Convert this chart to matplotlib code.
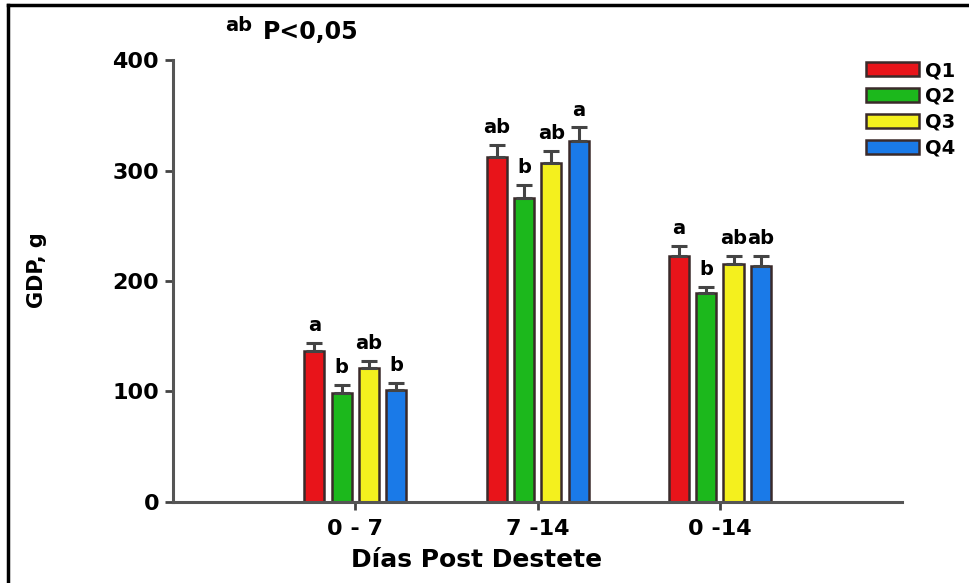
import matplotlib.pyplot as plt
import numpy as np

plt.rcParams['font.family'] = ['DejaVu Sans']
plt.rcParams['font.weight'] = 'bold'

# weight gain per period and quartile
periods = ['0 - 7', '7 -14', '0 -14']
groups = ['Q1', 'Q2', 'Q3', 'Q4']
gdp = {
    'Q1': [137, 312, 223],
    'Q2': [99, 275, 189],
    'Q3': [121, 307, 215],
    'Q4': [101, 327, 214],
}
err = {
    'Q1': [7, 11, 9],
    'Q2': [7, 12, 6],
    'Q3': [7, 11, 8],
    'Q4': [7, 12, 9],
}
letters = {
    'Q1': ['a', 'ab', 'a'],
    'Q2': ['b', 'b', 'b'],
    'Q3': ['ab', 'ab', 'ab'],
    'Q4': ['b', 'a', 'ab'],
}
colors = ['#e8141a', '#1cb81c', '#f4f01e', '#1a7ae8']

fig = plt.figure(figsize=(9.69, 5.83), dpi=100)
ax = fig.add_axes([0.1785, 0.139, 0.7525, 0.758])

x = np.arange(1, len(periods) + 1)
width = 0.11
offsets = [-0.225, -0.075, 0.075, 0.225]

for i, g in enumerate(groups):
    xs = x + offsets[i]
    ax.bar(xs, gdp[g], width, color=colors[i], edgecolor='#3a2a2a',
           linewidth=1.8, label=g, zorder=2)
    ax.errorbar(xs, gdp[g], yerr=[np.zeros(len(periods)), err[g]],
                fmt='none', ecolor='#444444', elinewidth=2.2, capsize=5.5,
                capthick=2.2, zorder=3)
    for xi, v, e, t in zip(xs, gdp[g], err[g], letters[g]):
        ax.text(xi, v + e + 7, t, ha='center', va='bottom',
                fontsize=14, fontweight='bold')

ax.set_xlim(0, 4)
ax.set_ylim(0, 400)
ax.set_xticks(x)
ax.set_xticklabels(periods, fontsize=16, fontweight='bold')
ax.set_yticks([0, 100, 200, 300, 400])
ax.set_yticklabels(['0', '100', '200', '300', '400'], fontsize=16,
                   fontweight='bold')
ax.tick_params(axis='y', length=6, width=2, color='#444444', pad=4)
ax.tick_params(axis='x', length=6, width=2, color='#444444', pad=6)

for side in ['top', 'right']:
    ax.spines[side].set_visible(False)
for side in ['left', 'bottom']:
    ax.spines[side].set_color('#555555')
    ax.spines[side].set_linewidth(2.2)

ax.set_xlabel('Días Post Destete', fontsize=18, fontweight='bold')
ax.xaxis.set_label_coords(0.417, -0.104)
ax.set_ylabel('GDP, g', fontsize=15, fontweight='bold')
ax.yaxis.set_label_coords(-0.173, 0.525)

ax.legend(loc='upper left', bbox_to_anchor=(0.884, 0.912),
          bbox_transform=fig.transFigure, frameon=False, fontsize=14,
          handlelength=2.7, handleheight=0.75, labelspacing=0.35,
          handletextpad=0.3, borderpad=0)

# significance note
fig.text(0.232, 0.94, 'ab', fontsize=14, fontweight='bold', va='bottom')
fig.text(0.271, 0.925, 'P<0,05', fontsize=17, fontweight='bold', va='bottom')

# outer frame
fig.add_artist(plt.Line2D([0.008, 0.008], [0, 0.992], color='black',
                          linewidth=2.5, transform=fig.transFigure))
fig.add_artist(plt.Line2D([0.008, 1.0], [0.992, 0.992], color='black',
                          linewidth=2.5, transform=fig.transFigure))

fig.savefig('out.png', dpi=100)
